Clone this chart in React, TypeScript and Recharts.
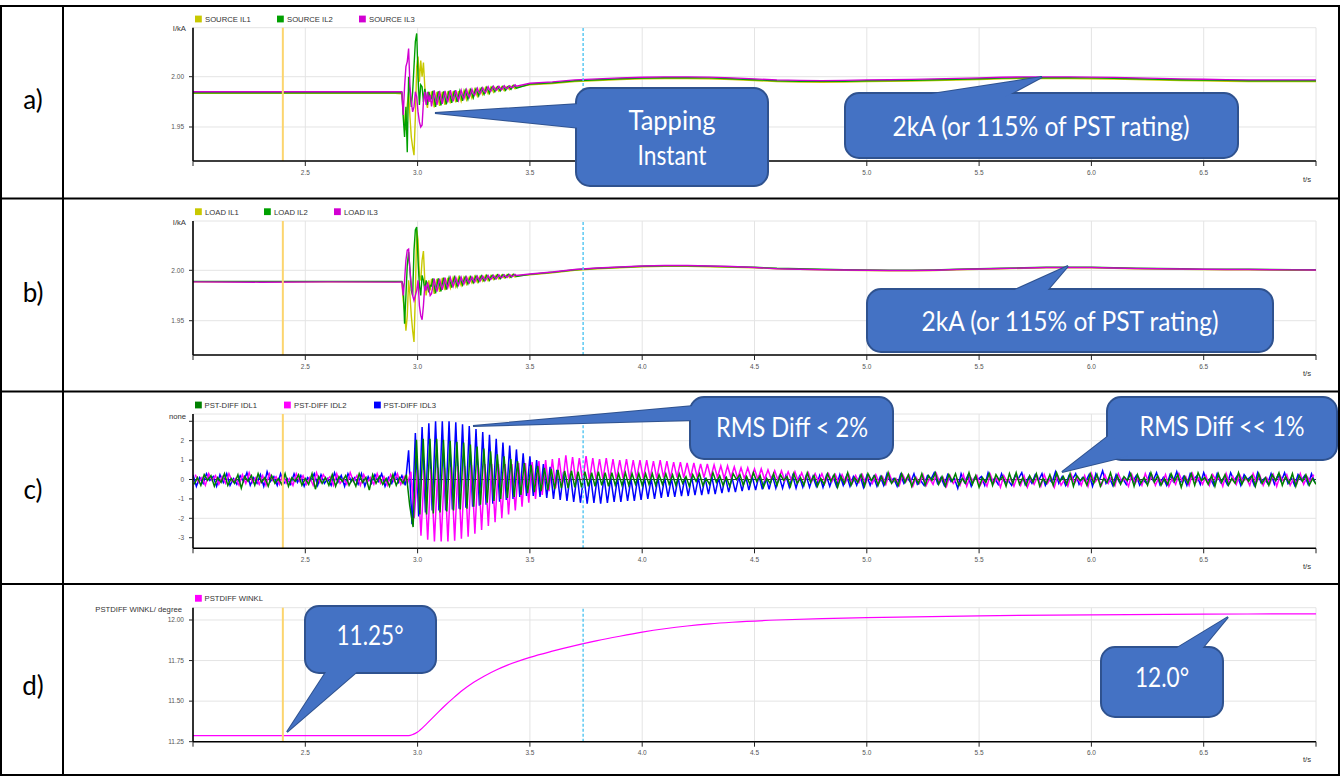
import React from 'react';
import { LineChart, Line, XAxis, YAxis, CartesianGrid, ReferenceLine } from 'recharts';

// ---------- shared axis data ----------
const X_TICKS = [2, 2.5, 3, 3.5, 4, 4.5, 5, 5.5, 6, 6.5, 7];
const TAP_T = 2.4;
const MARK_T = 3.737;

// ---------- panels a) / b) sampling grid ----------
const AB_PRE_T = [2.0, 2.3, 2.6, 2.9];
const AB_TR_T0 = 2.93;
const AB_TR_DT = 0.006;
const AB_TR_N = 86;
const AB_POST_T0 = 3.5;
const AB_POST_DT = 0.1;
const AB_POST_N = 36;

// ---------- a) SOURCE currents (kA) ----------
const SRC_IL1_PRE = [1.9835, 1.9835, 1.9835, 1.9835];
const SRC_IL2_PRE = [1.984, 1.984, 1.984, 1.984];
const SRC_IL3_PRE = [1.985, 1.985, 1.985, 1.985];
const SRC_IL1_TR = [
  1.983, 1.97, 1.95, 1.947, 1.972, 1.985, 1.96, 1.94, 1.93, 1.922, 1.96, 2.01, 2.02, 1.995, 2.016, 2.0, 2.014, 1.99, 1.975, 1.969, 1.985, 1.975,
  1.9855, 1.9775, 1.9695, 1.9775, 1.985, 1.978, 1.971, 1.978, 1.985, 1.9785, 1.972, 1.9785, 1.9855, 1.9795, 1.9735, 1.9795,
  1.9855, 1.98, 1.9745, 1.98, 1.9855, 1.9805, 1.9755, 1.9805, 1.986, 1.9815, 1.977, 1.9815, 1.9865, 1.9825, 1.9785, 1.9825,
  1.9875, 1.984, 1.9805, 1.984, 1.988, 1.985, 1.982, 1.985, 1.989, 1.986, 1.983, 1.986, 1.9895, 1.987, 1.9845, 1.987,
  1.9895, 1.9875, 1.9855, 1.9875, 1.99, 1.988, 1.986, 1.988, 1.99, 1.9885, 1.987, 1.9885, 1.991, 1.9895, 1.988, 1.9895,
];
const SRC_IL2_TR = [
  1.984, 1.96, 1.94, 1.97, 1.925, 2.0, 1.985, 1.97, 1.985, 2.01, 2.035, 2.043, 2.0, 1.972, 1.992, 1.99, 1.975, 1.988, 1.98, 1.972, 1.985, 1.978,
  1.978, 1.986, 1.978, 1.97, 1.9785, 1.9855, 1.9785, 1.9715, 1.979, 1.9855, 1.979, 1.9725, 1.98, 1.986, 1.98, 1.974,
  1.9805, 1.986, 1.9805, 1.975, 1.981, 1.986, 1.981, 1.976, 1.982, 1.9865, 1.982, 1.9775, 1.983, 1.987, 1.983, 1.979,
  1.9845, 1.988, 1.9845, 1.981, 1.9855, 1.9885, 1.9855, 1.9825, 1.9865, 1.9895, 1.9865, 1.9835, 1.9875, 1.99, 1.9875, 1.985,
  1.988, 1.99, 1.988, 1.986, 1.9885, 1.9905, 1.9885, 1.9865, 1.989, 1.9905, 1.989, 1.9875, 1.99, 1.9915, 1.99, 1.9885,
];
const SRC_IL3_TR = [
  1.985, 1.962, 1.99, 2.01, 2.015, 2.028, 1.99, 1.975, 1.965, 1.97, 1.985, 1.98, 1.965, 1.955, 1.95, 1.952, 1.975, 1.985, 1.972, 1.985, 1.975, 1.982,
  1.9705, 1.9785, 1.9865, 1.9785, 1.972, 1.979, 1.986, 1.979, 1.973, 1.9795, 1.986, 1.9795, 1.9745, 1.9805, 1.9865, 1.9805,
  1.9755, 1.981, 1.9865, 1.981, 1.9765, 1.9815, 1.9865, 1.9815, 1.978, 1.9825, 1.987, 1.9825, 1.9795, 1.9835, 1.9875, 1.9835,
  1.9815, 1.985, 1.9885, 1.985, 1.983, 1.986, 1.989, 1.986, 1.984, 1.987, 1.99, 1.987, 1.9855, 1.988, 1.9905, 1.988,
  1.9865, 1.9885, 1.9905, 1.9885, 1.987, 1.989, 1.991, 1.989, 1.988, 1.9895, 1.991, 1.9895, 1.989, 1.9905, 1.992, 1.9905,
];
const SRC_IL1_POST = [
  1.992, 1.9932, 1.9952, 1.9962, 1.9972, 1.998, 1.9982, 1.9982, 1.998, 1.9972, 1.9962, 1.9952, 1.9947, 1.9945, 1.9947, 1.9952, 1.9954, 1.9957,
  1.9962, 1.9967, 1.9972, 1.9978, 1.9982, 1.9982, 1.9982, 1.998, 1.9977, 1.9972, 1.9967, 1.9962, 1.9959, 1.9955, 1.9952, 1.9952, 1.9952, 1.9952,
];
const SRC_IL2_POST = [
  1.9927, 1.994, 1.996, 1.997, 1.998, 1.9987, 1.999, 1.999, 1.9988, 1.998, 1.997, 1.996, 1.9955, 1.9953, 1.9955, 1.996, 1.9962, 1.9965,
  1.997, 1.9975, 1.998, 1.9986, 1.999, 1.999, 1.999, 1.9988, 1.9985, 1.998, 1.9975, 1.997, 1.9967, 1.9963, 1.996, 1.996, 1.996, 1.996,
];
const SRC_IL3_POST = [
  1.9935, 1.9948, 1.9968, 1.9978, 1.9988, 1.9995, 1.9998, 1.9998, 1.9996, 1.9988, 1.9978, 1.9968, 1.9963, 1.9961, 1.9963, 1.9968, 1.997, 1.9973,
  1.9978, 1.9983, 1.9988, 1.9994, 1.9998, 1.9998, 1.9998, 1.9996, 1.9993, 1.9988, 1.9983, 1.9978, 1.9975, 1.9971, 1.9968, 1.9968, 1.9968, 1.9968,
];

// ---------- b) LOAD currents (kA) ----------
const LOAD_IL1_PRE = [1.9885, 1.9885, 1.9885, 1.9885];
const LOAD_IL2_PRE = [1.989, 1.989, 1.989, 1.989];
const LOAD_IL3_PRE = [1.9885, 1.9882, 1.9885, 1.9883];
const LOAD_IL1_TR = [
  1.9885, 1.97, 1.96, 1.94, 1.955, 1.99, 1.975, 1.955, 1.94, 1.929, 1.975, 2.04, 2.03, 1.995, 1.99, 2.01, 2.019, 1.99, 1.975, 1.985, 1.99, 1.98,
  1.9916, 1.9841, 1.9766, 1.9841, 1.9916, 1.9851, 1.9786, 1.9851, 1.9924, 1.9864, 1.9804, 1.9864, 1.9924, 1.9874, 1.9824, 1.9874,
  1.9927, 1.9882, 1.9837, 1.9882, 1.993, 1.989, 1.985, 1.989, 1.9931, 1.9896, 1.9861, 1.9896, 1.9933, 1.9903, 1.9873, 1.9903,
  1.994, 1.991, 1.988, 1.991, 1.9941, 1.9916, 1.9891, 1.9916, 1.9947, 1.9922, 1.9897, 1.9922, 1.9948, 1.9928, 1.9908, 1.9928,
  1.9953, 1.9933, 1.9913, 1.9933, 1.9953, 1.9938, 1.9923, 1.9938, 1.9957, 1.9942, 1.9927, 1.9942, 1.9958, 1.9946, 1.9934, 1.9946,
];
const LOAD_IL2_TR = [
  1.989, 1.985, 1.947, 1.975, 2.005, 2.018, 2.0, 1.98, 1.975, 2.02, 2.04, 2.043, 2.01, 1.985, 1.975, 1.995, 1.99, 1.98, 1.99, 1.985, 1.978, 1.985,
  1.9845, 1.992, 1.9845, 1.977, 1.9855, 1.992, 1.9855, 1.979, 1.9868, 1.9928, 1.9868, 1.9808, 1.9878, 1.9928, 1.9878, 1.9828,
  1.9886, 1.9931, 1.9886, 1.9841, 1.9894, 1.9934, 1.9894, 1.9854, 1.99, 1.9935, 1.99, 1.9865, 1.9907, 1.9937, 1.9907, 1.9877,
  1.9914, 1.9944, 1.9914, 1.9884, 1.992, 1.9945, 1.992, 1.9895, 1.9926, 1.9951, 1.9926, 1.9901, 1.9932, 1.9952, 1.9932, 1.9912,
  1.9937, 1.9957, 1.9937, 1.9917, 1.9942, 1.9957, 1.9942, 1.9927, 1.9946, 1.9961, 1.9946, 1.9931, 1.995, 1.9962, 1.995, 1.9938,
];
const LOAD_IL3_TR = [
  1.9885, 1.975, 1.99, 2.01, 2.02, 2.021, 2.0, 1.985, 1.975, 1.97, 1.975, 1.98, 1.99, 1.965, 1.955, 1.951, 1.965, 1.985, 1.98, 1.988, 1.982, 1.975,
  1.9768, 1.9843, 1.9918, 1.9843, 1.9788, 1.9853, 1.9918, 1.9853, 1.9806, 1.9866, 1.9926, 1.9866, 1.9826, 1.9876, 1.9926, 1.9876,
  1.9839, 1.9884, 1.9929, 1.9884, 1.9852, 1.9892, 1.9932, 1.9892, 1.9863, 1.9898, 1.9933, 1.9898, 1.9875, 1.9905, 1.9935, 1.9905,
  1.9882, 1.9912, 1.9942, 1.9912, 1.9893, 1.9918, 1.9943, 1.9918, 1.9899, 1.9924, 1.9949, 1.9924, 1.991, 1.993, 1.995, 1.993,
  1.9915, 1.9935, 1.9955, 1.9935, 1.9925, 1.994, 1.9955, 1.994, 1.9929, 1.9944, 1.9959, 1.9944, 1.9936, 1.9948, 1.996, 1.9948,
];
const LOAD_IL1_POST = [
  1.9955, 1.9975, 2.0, 2.0015, 2.0025, 2.0035, 2.004, 2.004, 2.0035, 2.003, 2.0025, 2.0015, 2.001, 2.0005, 2.0, 1.9998, 1.9995, 1.9995,
  1.9998, 2.0005, 2.001, 2.0015, 2.002, 2.0025, 2.0025, 2.0025, 2.002, 2.0015, 2.0013, 2.001, 2.0007, 2.0005, 2.0005, 2.0003, 2.0001, 2.0,
];
const LOAD_IL2_POST = [
  1.996, 1.998, 2.0005, 2.002, 2.003, 2.004, 2.0045, 2.0045, 2.004, 2.0035, 2.003, 2.002, 2.0015, 2.001, 2.0005, 2.0003, 2.0, 2.0,
  2.0003, 2.001, 2.0015, 2.002, 2.0025, 2.003, 2.003, 2.003, 2.0025, 2.002, 2.0018, 2.0015, 2.0012, 2.001, 2.001, 2.0008, 2.0006, 2.0005,
];
const LOAD_IL3_POST = [
  1.9963, 1.9983, 2.0008, 2.0023, 2.0033, 2.0043, 2.0048, 2.0048, 2.0043, 2.0038, 2.0028, 2.0015, 2.001, 2.0005, 2.0003, 2.0001, 1.9998, 1.9998,
  2.0001, 2.0008, 2.0013, 2.0018, 2.0023, 2.0028, 2.0028, 2.0028, 2.0023, 2.0018, 2.0016, 2.0013, 2.001, 2.0008, 2.0008, 2.0006, 2.0004, 2.0003,
];

// ---------- c) PST differential currents ----------
const C_DT = 0.015;
const IDL3_T0 = 2.0;
const IDL1_T0 = 2.005;
const IDL2_T0 = 2.01;
const PST_IDL3 = [
  0.25, -0.35, 0.1, -0.2, 0.3, -0.05, 0.15, -0.35, 0.25, -0.15,
  0.3, -0.3, 0.05, -0.25, 0.2, -0.1, 0.35, -0.3, 0.1, -0.2,
  0.25, -0.35, 0.4, -0.1, 0.15, -0.3, 0.3, -0.2, 0.05, -0.25,
  0.3, -0.15, 0.2, -0.35, 0.1, -0.05, 0.3, -0.3, 0.25, -0.2,
  0.05, -0.3, 0.35, -0.15, 0.2, -0.35, 0.3, -0.1, 0.1, -0.25,
  0.3, -0.35, 0.15, -0.2, 0.25, -0.1, 0.3, -0.35, 0.1, -0.2,
  0.35, -0.15, 0.2, -0.3,
  1.5, -2.3, 2.4, -1.9, 2.7, -1.7, 2.9, -1.6, 3.0, -1.6,
  3.0, -1.6, 3.0, -1.55, 2.95, -1.5, 2.85, -1.45, 2.75, -1.4,
  2.6, -1.35, 2.45, -1.3, 2.3, -1.25, 2.1, -1.15, 1.9, -1.05,
  1.75, -1.0, 1.55, -0.9, 1.35, -0.85, 1.2, -0.85, 1.0, -0.9,
  0.8, -0.95, 0.65, -1.0, 0.5, -1.05, 0.4, -1.1, 0.3, -1.15,
  0.25, -1.2, 0.2, -1.25, 0.2, -1.2, 0.15, -1.25, 0.15, -1.2,
  0.1, -1.15, 0.1, -1.15, 0.1, -1.1, 0.05, -1.1, 0.1, -1.05,
  0.1, -1.0, 0.05, -1.0, 0.1, -0.95, 0.1, -0.9, 0.05, -0.9,
  0.1, -0.85, 0.1, -0.85, 0.15, -0.8, 0.1, -0.8, 0.1, -0.75,
  0.15, -0.75, 0.1, -0.7, 0.15, -0.65, 0.1, -0.65, 0.15, -0.6,
  0.2, -0.55, 0.15, -0.55, 0.2, -0.5, 0.15, -0.5, 0.2, -0.45,
  0.15, -0.45, 0.2, -0.4, 0.2, -0.45, 0.15, -0.4, 0.2, -0.4,
  0.15, -0.35, 0.2, -0.4, 0.2, -0.35, 0.15, -0.35, 0.25, -0.3,
  0.2, -0.35, 0.15, -0.3, 0.2, -0.4, 0.2, -0.3, 0.15, -0.35,
  0.15, -0.3, 0.3, -0.1, 0.05, -0.35, 0.25, -0.2, 0.1, -0.15,
  0.3, -0.25, -0.05, -0.3, 0.2, 0.0, 0.35, -0.2, 0.1, -0.3,
  0.25, -0.1, 0.05, -0.45, 0.3, -0.15, 0.2, -0.35, 0.1, 0.0,
  0.15, -0.3, 0.35, -0.1, 0.05, -0.25, 0.3, -0.15, -0.05, -0.3,
  0.2, 0.05, 0.35, -0.25, 0.1, -0.2, 0.25, -0.05, 0.3, -0.3,
  0.05, -0.15, 0.4, -0.2, 0.15, -0.3, 0.2, 0.0, 0.3, -0.25,
  0.1, -0.1, 0.25, -0.35, 0.3, -0.05, 0.45, -0.2, 0.1, -0.3,
  0.25, -0.15, 0.05, -0.25, 0.35, -0.1, 0.2, -0.3, 0.0, -0.2,
  0.3, -0.05, 0.35, -0.25, 0.1, -0.3, 0.25, -0.1, 0.4, -0.2,
  0.15, -0.3, 0.3, 0.0, 0.2, -0.25, 0.35, -0.1, 0.05, -0.3,
  0.3, -0.15, 0.1, -0.25, 0.35, -0.05, 0.2, -0.3, 0.25, 0.0,
  0.15, -0.3, 0.35, -0.15, 0.05, -0.2, 0.3, -0.25, 0.2, -0.1,
  0.35, -0.2, 0.1, -0.3, 0.25, -0.05, 0.2, -0.25, 0.3, -0.15,
];
const PST_IDL1 = [
  -0.25, 0.1, -0.3, 0.25, -0.05, 0.2, -0.35, 0.1, -0.15, 0.3,
  -0.3, 0.05, -0.2, 0.25, -0.45, 0.15, -0.1, 0.2, -0.3, 0.3,
  -0.15, 0.1, -0.35, 0.2, -0.2, 0.05, -0.25, 0.3, -0.35, 0.1,
  -0.1, 0.25, -0.3, 0.05, -0.25, 0.3, -0.5, 0.15, -0.2, 0.1,
  -0.3, 0.25, -0.35, 0.15, -0.1, 0.2, -0.3, 0.05, -0.35, 0.3,
  -0.15, 0.1, -0.55, 0.25, -0.2, 0.15, -0.25, 0.05, -0.35, 0.25,
  -0.3, 0.1, -0.2, 0.25,
  -1.35, -2.45, 2.05, -1.8, 2.1, -1.8, 2.1, -1.75, 2.1, -1.7,
  2.05, -1.65, 2.0, -1.6, 1.95, -1.55, 1.9, -1.5, 1.8, -1.4,
  1.7, -1.3, 1.6, -1.2, 1.45, -1.1, 1.3, -1.0, 1.2, -0.95,
  1.05, -0.9, 0.95, -0.8, 0.85, -0.7, 0.75, -0.65, 0.7, -0.6,
  0.6, -0.55, 0.55, -0.5, 0.5, -0.45, 0.45, -0.45, 0.45, -0.4,
  0.4, -0.4, 0.4, -0.35, 0.35, -0.35, 0.4, -0.3, 0.35, -0.35,
  0.35, -0.3, 0.3, -0.3, 0.35, -0.3, 0.3, -0.25, 0.3, -0.3,
  0.3, -0.25, 0.3, -0.3, 0.25, -0.25, 0.3, -0.25, 0.25, -0.3,
  0.3, -0.2, 0.15, -0.35, 0.25, -0.1, 0.3, -0.3, 0.05, -0.25,
  0.35, -0.15, 0.2, -0.3, 0.1, -0.35, 0.3, 0.0, 0.25, -0.3,
  0.15, -0.25, 0.35, -0.1, 0.2, -0.4, 0.05, -0.2, 0.3, -0.3,
  0.25, -0.05, 0.15, -0.35, 0.3, -0.2, 0.1, -0.3, 0.35, -0.15,
  0.2, -0.35, 0.05, -0.25, 0.3, -0.1, 0.25, -0.4, 0.15, -0.2,
  0.35, -0.3, 0.1, -0.15, 0.25, -0.35, 0.3, -0.05, 0.2, -0.3,
  0.15, -0.25, 0.35, -0.2, 0.05, -0.3, 0.3, -0.15, 0.25, -0.35,
  0.1, -0.2, 0.3, -0.3, 0.2, -0.05, 0.35, -0.25, 0.15, -0.35,
  0.25, -0.1, 0.3, -0.3, 0.05, -0.2, 0.35, -0.25, 0.2, -0.4,
  0.1, -0.15, 0.3, -0.3, 0.25, -0.05, 0.15, -0.35, 0.3, -0.2,
  0.35, -0.25, 0.1, -0.3, 0.2, -0.15, 0.3, -0.35, 0.05, -0.2,
  0.25, -0.3, 0.35, -0.1, 0.15, -0.25, 0.3, -0.35, 0.2, -0.05,
  0.1, -0.3, 0.3, -0.2, 0.25, -0.35, 0.05, -0.15, 0.35, -0.3,
  0.2, -0.25, 0.15, -0.05, 0.3, -0.35, 0.25, -0.2, 0.1, -0.3,
  0.35, -0.15, 0.2, -0.3, 0.05, -0.25, 0.3, -0.1, 0.25, -0.4,
  0.15, -0.2, 0.3, -0.3, 0.35, -0.05, 0.1, -0.25, 0.2, -0.35,
  0.3, -0.15, 0.25, -0.3, 0.05, -0.2, 0.35, -0.25, 0.15, -0.1,
  0.2, -0.35, 0.3, -0.2, 0.1, -0.3, 0.25, -0.05, 0.35, -0.3,
  0.15, -0.2, 0.3, -0.35, 0.2, -0.1, 0.25, -0.3, 0.05, -0.25,
];
const PST_IDL2 = [
  0.25, -0.15, 0.1, -0.3, 0.3, -0.05, 0.2, -0.25, 0.15, -0.2,
  0.3, -0.1, 0.05, -0.3, 0.25, -0.2, 0.35, -0.15, 0.1, -0.25,
  0.2, -0.3, 0.3, -0.05, 0.15, -0.25, 0.25, -0.2, 0.05, -0.3,
  0.3, -0.1, 0.2, -0.25, 0.1, -0.3, 0.35, -0.15, 0.25, -0.05,
  0.15, -0.3, 0.3, -0.2, 0.05, -0.25, 0.35, -0.1, 0.2, -0.3,
  0.25, -0.15, 0.1, -0.25, 0.3, -0.2, 0.15, -0.3, 0.25, -0.1,
  0.3, -0.25, 0.15, -0.2,
  0.4, -2.0, 0.5, -2.9, 0.5, -3.1, 0.55, -3.2, 0.6, -3.2,
  0.6, -3.2, 0.65, -3.15, 0.7, -3.05, 0.7, -2.95, 0.75, -2.8,
  0.75, -2.6, 0.8, -2.4, 0.8, -2.2, 0.8, -2.0, 0.8, -1.8,
  0.8, -1.6, 0.85, -1.4, 0.85, -1.2, 0.9, -1.0, 0.95, -0.8,
  1.0, -0.6, 1.05, -0.45, 1.1, -0.3, 1.25, -0.2, 1.15, -0.15,
  1.1, -0.1, 1.2, -0.05, 1.1, -0.05, 1.05, 0.0, 1.1, 0.0,
  1.05, 0.0, 1.0, 0.05, 1.05, 0.0, 1.0, 0.05, 1.0, 0.05,
  1.0, 0.05, 0.95, 0.05, 1.0, 0.1, 0.95, 0.05, 0.9, 0.1,
  0.9, 0.1, 0.85, 0.1, 0.85, 0.1, 0.8, 0.1, 0.8, 0.1,
  0.75, 0.1, 0.7, 0.05, 0.7, 0.1, 0.65, 0.05, 0.6, 0.05,
  0.6, 0.05, 0.55, 0.0, 0.55, 0.0, 0.5, 0.0, 0.45, -0.05,
  0.45, -0.05, 0.4, -0.05, 0.4, -0.1, 0.35, -0.1, 0.35, -0.1,
  0.3, -0.1, 0.3, -0.15, 0.3, -0.1, 0.25, -0.15, 0.25, -0.15,
  0.25, -0.2, 0.2, -0.15, 0.25, -0.2, 0.2, -0.2, 0.25, -0.15,
  0.15, -0.25, 0.3, -0.15, 0.05, -0.3, 0.25, -0.1, 0.2, -0.35,
  0.1, -0.2, 0.25, -0.3, 0.05, -0.25, 0.3, -0.15, 0.1, -0.35,
  0.2, -0.2, 0.05, -0.3, 0.25, -0.35, 0.15, -0.1, 0.2, -0.3,
  0.0, -0.35, 0.25, -0.2, 0.1, -0.4, 0.2, -0.15, 0.05, -0.35,
  0.15, -0.3, 0.2, -0.4, 0.05, -0.25, 0.15, -0.35, 0.25, -0.2,
  0.1, -0.4, 0.2, -0.3, 0.0, -0.35, 0.25, -0.2, 0.1, -0.3,
  0.2, -0.35, 0.3, -0.15, 0.05, -0.3, 0.25, -0.2, 0.15, -0.3,
  0.3, -0.1, 0.05, -0.35, 0.25, -0.2, 0.1, -0.3, 0.3, -0.15,
  0.2, -0.3, 0.1, -0.2, 0.25, -0.35, 0.05, -0.25, 0.3, -0.1,
  0.15, -0.3, 0.3, -0.15, 0.1, -0.25, 0.2, -0.3, 0.25, -0.05,
  0.1, -0.35, 0.3, -0.2, 0.15, -0.25, 0.25, -0.1, 0.05, -0.3,
  0.3, -0.15, 0.2, -0.3, 0.1, -0.2, 0.25, -0.35, 0.2, -0.1,
  0.25, -0.3, 0.05, -0.2, 0.3, -0.25, 0.15, -0.1, 0.25, -0.25,
];

// ---------- d) PST angle difference (degree) ----------
const WINKL_T = [2.0, 2.5, 2.96, 2.98, 3.0, 3.04, 3.08, 3.12, 3.16, 3.2, 3.25, 3.3, 3.35, 3.4, 3.5, 3.6, 3.7, 3.8, 3.9, 4.0, 4.1, 4.2, 4.3, 4.4, 4.6, 4.8, 5.0, 5.5, 6.0, 6.5, 7.0];
const WINKL = [11.287, 11.287, 11.287, 11.295, 11.31, 11.36, 11.415, 11.47, 11.52, 11.567, 11.617, 11.657, 11.692, 11.722, 11.77, 11.808, 11.842, 11.873, 11.9, 11.925, 11.946, 11.963, 11.976, 11.986, 12.0, 12.009, 12.015, 12.026, 12.032, 12.036, 12.038];

// ---------- styling constants ----------
const FONT_SANS = '"Liberation Sans", Arial, sans-serif';
const FONT_CALL = 'Lato, "Open Sans", sans-serif';
const C_YEL = '#C8C800';
const C_GRN = '#00A000';
const C_MAG = '#D200D2';
const C_DGRN = '#008000';
const C_PINK = '#FF00FF';
const C_BLUE = '#0000FF';
const CALL_FILL = '#4472C4';
const CALL_STROKE = '#2F528F';

// ---------- build rows ----------
const r4 = (v: number) => Math.round(v * 10000) / 10000;
const AB_T = [
  ...AB_PRE_T,
  ...Array.from({ length: AB_TR_N }, (_, i) => r4(AB_TR_T0 + i * AB_TR_DT)),
  ...Array.from({ length: AB_POST_N }, (_, i) => r4(AB_POST_T0 + i * AB_POST_DT)),
];
function abRows(s1: number[], s2: number[], s3: number[]) {
  return AB_T.map((t, i) => ({ t, s1: s1[i], s2: s2[i], s3: s3[i] }));
}
const ROWS_A = abRows(
  [...SRC_IL1_PRE, ...SRC_IL1_TR, ...SRC_IL1_POST],
  [...SRC_IL2_PRE, ...SRC_IL2_TR, ...SRC_IL2_POST],
  [...SRC_IL3_PRE, ...SRC_IL3_TR, ...SRC_IL3_POST],
);
const ROWS_B = abRows(
  [...LOAD_IL1_PRE, ...LOAD_IL1_TR, ...LOAD_IL1_POST],
  [...LOAD_IL2_PRE, ...LOAD_IL2_TR, ...LOAD_IL2_POST],
  [...LOAD_IL3_PRE, ...LOAD_IL3_TR, ...LOAD_IL3_POST],
);
const ROWS_C = [
  ...PST_IDL3.map((v, i) => ({ t: r4(IDL3_T0 + i * C_DT), s3: v } as any)),
  ...PST_IDL1.map((v, i) => ({ t: r4(IDL1_T0 + i * C_DT), s1: v } as any)),
  ...PST_IDL2.map((v, i) => ({ t: r4(IDL2_T0 + i * C_DT), s2: v } as any)),
].filter((r) => r.t <= 7).sort((a, b) => a.t - b.t);
const ROWS_D = WINKL_T.map((t, i) => ({ t, s1: WINKL[i] }));

// ---------- panel ----------
type Series = { key: string; color: string; w: number };
type PanelProps = {
  top: number; height: number; plotTop: number; plotBottom: number;
  rows: any[]; series: Series[]; yDomain: [number, number]; yTicks: number[];
  yFmt: (v: number) => string; zero?: boolean; curve?: 'linear' | 'monotone';
};
const CH_LEFT = 63;
const CH_W = 1277;
const PLOT_L = 193;
const PLOT_R = 1316;
const Y_W = 60;
const X_H = 25;

function Panel(p: PanelProps) {
  const margin = {
    top: p.plotTop - p.top,
    right: CH_LEFT + CH_W - PLOT_R,
    left: PLOT_L - CH_LEFT - Y_W,
    bottom: p.top + p.height - p.plotBottom - X_H,
  };
  const tickStyle = { fontSize: 6.5, fill: '#555', fontFamily: FONT_SANS };
  return (
    <div style={{ position: 'absolute', left: CH_LEFT, top: p.top, width: CH_W, height: p.height }}>
      <LineChart width={CH_W} height={p.height} data={p.rows} margin={margin}>
        <CartesianGrid stroke="#e4e4e4" strokeWidth={1} />
        <XAxis
          type="number" dataKey="t" domain={[2, 7]} ticks={X_TICKS} allowDataOverflow
          tickFormatter={(v: number) => (v === 2 || v === 7 ? '' : v.toFixed(1))}
          height={X_H} tickSize={5} tickMargin={4} tick={tickStyle}
          axisLine={{ stroke: '#000', strokeWidth: 1.6 }} tickLine={{ stroke: '#222' }}
        />
        <YAxis
          type="number" domain={p.yDomain} ticks={p.yTicks} allowDataOverflow
          tickFormatter={p.yFmt} width={Y_W} tickSize={4} tickMargin={5} tick={tickStyle}
          axisLine={{ stroke: '#000', strokeWidth: 1.6 }} tickLine={{ stroke: '#222' }}
        />
        {p.zero ? <ReferenceLine y={0} stroke="#333" strokeWidth={1} /> : null}
        {p.series.map((s) => (
          <Line key={s.key} type={p.curve || 'linear'} dataKey={s.key} stroke={s.color} strokeWidth={s.w}
            dot={false} activeDot={false} connectNulls isAnimationActive={false} />
        ))}
        <ReferenceLine x={TAP_T} stroke="#FCD56E" strokeWidth={2} />
        <ReferenceLine x={MARK_T} stroke="#5CC9F2" strokeWidth={1.5} strokeDasharray="3 2" />
      </LineChart>
    </div>
  );
}

// ---------- annotations ----------
const LEGENDS = [
  { y: 19, items: [{ x: 195, tx: 205, c: C_YEL, t: 'SOURCE IL1' }, { x: 277, tx: 287, c: C_GRN, t: 'SOURCE IL2' }, { x: 359, tx: 369, c: C_MAG, t: 'SOURCE IL3' }] },
  { y: 211.7, items: [{ x: 195, tx: 205, c: C_YEL, t: 'LOAD IL1' }, { x: 264, tx: 274, c: C_GRN, t: 'LOAD IL2' }, { x: 334, tx: 344, c: C_MAG, t: 'LOAD IL3' }] },
  { y: 405, items: [{ x: 195, tx: 204.5, c: C_DGRN, t: 'PST-DIFF IDL1' }, { x: 284, tx: 294, c: C_PINK, t: 'PST-DIFF IDL2' }, { x: 374, tx: 383.5, c: C_BLUE, t: 'PST-DIFF IDL3' }] },
  { y: 598.3, items: [{ x: 195, tx: 204.5, c: C_PINK, t: 'PSTDIFF WINKL' }] },
];
const Y_TITLES = [
  { x: 186, y: 31, t: 'I/kA' },
  { x: 186, y: 224.5, t: 'I/kA' },
  { x: 186, y: 418.5, t: 'none' },
  { x: 182, y: 612, t: 'PSTDIFF WINKL/ degree' },
];
const X_TITLE_Y = [182, 376, 568.7, 762];
const ROW_LABELS = [
  { t: 'a)', y: 109 },
  { t: 'b)', y: 302 },
  { t: 'c)', y: 499 },
  { t: 'd)', y: 695 },
];
type CalloutDef = {
  x: number; y: number; w: number; h: number; tip: [number, number]; base: [number, number][];
  lines: { t: string; x: number; y: number; len: number }[];
};
const CALLOUTS: CalloutDef[] = [
  { x: 576, y: 88, w: 192, h: 98, tip: [435, 113], base: [[580, 104], [580, 128]],
    lines: [{ t: 'Tapping', x: 672, y: 130, len: 87 }, { t: 'Instant', x: 672, y: 165, len: 69 }] },
  { x: 845, y: 93, w: 393, h: 65, tip: [1042, 77], base: [[912, 97], [1005, 97]],
    lines: [{ t: '2kA (or 115% of PST rating)', x: 1041, y: 136, len: 297 }] },
  { x: 867, y: 289, w: 406, h: 63, tip: [1068, 266], base: [[1008, 293], [1045, 293]],
    lines: [{ t: '2kA (or 115% of PST rating)', x: 1070, y: 331, len: 297 }] },
  { x: 690, y: 397, w: 203, h: 62, tip: [473, 426], base: [[694, 406], [694, 420]],
    lines: [{ t: 'RMS Diff < 2%', x: 792, y: 437, len: 152 }] },
  { x: 1107, y: 397, w: 230, h: 63, tip: [1062, 472], base: [[1111, 434], [1128, 456]],
    lines: [{ t: 'RMS Diff << 1%', x: 1222, y: 436, len: 165 }] },
  { x: 305, y: 606, w: 131, h: 67, tip: [287, 732], base: [[328, 669], [360, 669]],
    lines: [{ t: '11.25°', x: 370, y: 645, len: 67 }] },
  { x: 1101, y: 647, w: 122, h: 70, tip: [1228, 617], base: [[1172, 651], [1200, 651]],
    lines: [{ t: '12.0°', x: 1162, y: 687, len: 54 }] },
];

function Callout({ c }: { c: CalloutDef }) {
  const tri = `M${c.base[0][0]},${c.base[0][1]} L${c.tip[0]},${c.tip[1]} L${c.base[1][0]},${c.base[1][1]} Z`;
  return (
    <g>
      <path d={tri} fill={CALL_FILL} stroke={CALL_STROKE} strokeWidth={2} strokeLinejoin="miter" />
      <rect x={c.x} y={c.y} width={c.w} height={c.h} rx={14} ry={14} fill={CALL_FILL} stroke={CALL_STROKE} strokeWidth={2} />
      <path d={tri} fill={CALL_FILL} stroke="none" />
      {c.lines.map((l, i) => (
        <text key={i} x={l.x} y={l.y} textAnchor="middle" fontFamily={FONT_CALL} fontSize={26} fill="#fff"
          textLength={l.len} lengthAdjust="spacingAndGlyphs">{l.t}</text>
      ))}
    </g>
  );
}

function Overlay() {
  return (
    <svg width={1340} height={776} style={{ position: 'absolute', left: 0, top: 0, pointerEvents: 'none' }}>
      <g stroke="#000" strokeWidth={2} fill="none">
        <rect x={1} y={6} width={1338} height={769} />
        <line x1={63} y1={6} x2={63} y2={775} />
        <line x1={1} y1={198.5} x2={1339} y2={198.5} />
        <line x1={1} y1={391.5} x2={1339} y2={391.5} />
        <line x1={1} y1={584} x2={1339} y2={584} />
      </g>
      {ROW_LABELS.map((r) => (
        <text key={r.t} x={33} y={r.y} textAnchor="middle" fontFamily={FONT_CALL} fontSize={26} fill="#000">{r.t}</text>
      ))}
      {LEGENDS.map((lg, i) => (
        <g key={i}>
          {lg.items.map((it) => (
            <g key={it.t}>
              <rect x={it.x} y={lg.y - 3.4} width={6.8} height={6.8} fill={it.c} />
              <text x={it.tx} y={lg.y + 2.8} fontFamily={FONT_SANS} fontSize={7.7} fill="#333">{it.t}</text>
            </g>
          ))}
        </g>
      ))}
      {Y_TITLES.map((y, i) => (
        <text key={i} x={y.x} y={y.y} textAnchor="end" fontFamily={FONT_SANS} fontSize={7.7} fill="#333">{y.t}</text>
      ))}
      {X_TITLE_Y.map((y, i) => (
        <text key={i} x={1307} y={y} textAnchor="middle" fontFamily={FONT_SANS} fontSize={7.7} fill="#333">t/s</text>
      ))}
      {CALLOUTS.map((c, i) => <Callout key={i} c={c} />)}
    </svg>
  );
}

export default function App() {
  return (
    <div style={{ position: 'absolute', left: 0, top: 0, width: 1340, height: 776, background: '#fff', overflow: 'hidden' }}>
      <Panel top={7} height={191} plotTop={27.7} plotBottom={161} rows={ROWS_A}
        series={[{ key: 's1', color: C_YEL, w: 1.4 }, { key: 's2', color: C_GRN, w: 1.4 }, { key: 's3', color: C_MAG, w: 1.4 }]}
        yDomain={[1.9162, 2.0487]} yTicks={[1.95, 2.0]} yFmt={(v) => v.toFixed(2)} />
      <Panel top={200} height={191} plotTop={221} plotBottom={355} rows={ROWS_B}
        series={[{ key: 's1', color: C_YEL, w: 1.4 }, { key: 's2', color: C_GRN, w: 1.4 }, { key: 's3', color: C_MAG, w: 1.4 }]}
        yDomain={[1.916, 2.0489]} yTicks={[1.95, 2.0]} yFmt={(v) => v.toFixed(2)} />
      <Panel top={393} height={191} plotTop={414} plotBottom={548.3} rows={ROWS_C}
        series={[{ key: 's3', color: C_BLUE, w: 1.5 }, { key: 's2', color: C_PINK, w: 1.5 }, { key: 's1', color: C_DGRN, w: 1.5 }]}
        yDomain={[-3.546, 3.376]} yTicks={[-3, -2, -1, 0, 1, 2, 3]} yFmt={(v) => (v === 3 ? '' : String(v))} zero />
      <Panel top={586} height={189} plotTop={607.7} plotBottom={741.7} rows={ROWS_D} curve="monotone"
        series={[{ key: 's1', color: C_PINK, w: 1.2 }]}
        yDomain={[11.25, 12.0758]} yTicks={[11.25, 11.5, 11.75, 12.0]} yFmt={(v) => v.toFixed(2)} />
      <Overlay />
    </div>
  );
}
